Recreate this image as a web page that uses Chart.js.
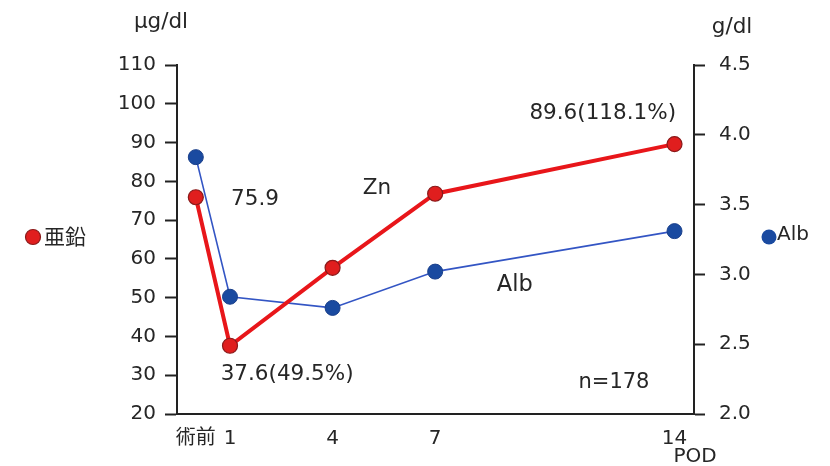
<!DOCTYPE html>
<html>
<head>
<meta charset="utf-8">
<script src="https://cdn.jsdelivr.net/npm/chart.js@4.4.1/dist/chart.umd.min.js"></script>
<style>
  html, body { margin: 0; padding: 0; background: #fff; }
</style>
</head>
<body>
<canvas id="chart" width="830" height="466"></canvas>
<script>
// Data
const days = [0, 1, 4, 7, 14];
const dayLabels = ['術前', '1', '4', '7', '14'];
const zincValues = [75.9, 37.6, 57.7, 76.8, 89.6];   // µg/dl
const albValues = [3.84, 2.84, 2.76, 3.02, 3.31];    // g/dl

const textColor = '#262626';
const axisColor = '#222';
const font = '"DejaVu Sans", Verdana, sans-serif';

function toPoints(values) {
    return days.map((d, i) => ({ x: d, y: values[i] }));
}

// Annotations, units and side legends
const notesPlugin = {
    id: 'notes',
    afterDraw(chart) {
        const { ctx, scales: { x, y } } = chart;
        ctx.save();
        ctx.fillStyle = textColor;
        ctx.font = '21.5px ' + font;
        ctx.textAlign = 'center';
        ctx.textBaseline = 'middle';

        ctx.fillText('75.9', x.getPixelForValue(1.73), y.getPixelForValue(75.4));
        ctx.fillText('Zn', x.getPixelForValue(5.3), y.getPixelForValue(78.3));
        ctx.fillText('89.6(118.1%)', x.getPixelForValue(11.9), y.getPixelForValue(97.6));
        ctx.fillText('37.6(49.5%)', x.getPixelForValue(2.67), y.getPixelForValue(30.3));
        ctx.font = '22.5px ' + font;
        ctx.fillText('Alb', x.getPixelForValue(9.33), y.getPixelForValue(53.3));
        ctx.font = '21px ' + font;
        ctx.fillText('n=178', x.getPixelForValue(12.23), y.getPixelForValue(28));

        // units
        ctx.font = '21.5px ' + font;
        ctx.fillText('µg/dl', 161, 22);
        ctx.fillText('g/dl', 732, 27);
        ctx.font = '20px ' + font;
        ctx.fillText('POD', 695, 457);

        // side legends
        ctx.textAlign = 'left';
        ctx.beginPath();
        ctx.arc(33, 237, 7.5, 0, Math.PI * 2);
        ctx.fillStyle = '#e01e1e';
        ctx.fill();
        ctx.lineWidth = 1.2;
        ctx.strokeStyle = '#8a1a1a';
        ctx.stroke();
        ctx.fillStyle = textColor;
        ctx.font = '21px "Noto Sans CJK JP", ' + font;
        ctx.fillText('亜鉛', 44, 236);

        ctx.beginPath();
        ctx.arc(769, 237, 7.5, 0, Math.PI * 2);
        ctx.fillStyle = '#1a4aa0';
        ctx.fill();
        ctx.fillStyle = textColor;
        ctx.font = '20px ' + font;
        ctx.fillText('Alb', 777, 235);
        ctx.restore();
    }
};

const ctx = document.getElementById('chart').getContext('2d');
const chart = new Chart(ctx, {
    type: 'line',
    data: {
        datasets: [
            {
                label: '亜鉛',
                data: toPoints(zincValues),
                yAxisID: 'y',
                order: 0,
                borderColor: '#e8161a',
                borderWidth: 4,
                backgroundColor: '#e01e1e',
                pointBackgroundColor: '#e01e1e',
                pointBorderColor: '#8a1a1a',
                pointBorderWidth: 1.2,
                pointRadius: 7.5,
                tension: 0
            },
            {
                label: 'Alb',
                data: toPoints(albValues),
                yAxisID: 'y1',
                order: 1,
                borderColor: '#3355c4',
                borderWidth: 1.6,
                backgroundColor: '#1a4aa0',
                pointBackgroundColor: '#1a4aa0',
                pointBorderColor: '#1a3f8a',
                pointBorderWidth: 1,
                pointRadius: 7.5,
                tension: 0
            }
        ]
    },
    options: {
        responsive: false,
        animation: false,
        layout: { padding: { top: 65, left: 0, right: 0, bottom: 0 } },
        plugins: {
            legend: { display: false },
            tooltip: { enabled: false }
        },
        scales: {
            x: {
                type: 'linear',
                min: -0.55,
                max: 14.57,
                afterBuildTicks(scale) {
                    scale.ticks = days.map(v => ({ value: v }));
                },
                afterFit(scale) { scale.height = 52; },
                grid: { display: false },
                border: { display: true, color: axisColor, width: 2 },
                ticks: {
                    color: textColor,
                    font: { family: '"DejaVu Sans", "Noto Sans CJK JP", sans-serif', size: 20 },
                    padding: 5,
                    maxRotation: 0,
                    autoSkip: false,
                    callback: (v) => dayLabels[days.indexOf(v)]
                }
            },
            y: {
                position: 'left',
                min: 20,
                max: 110,
                afterFit(scale) { scale.width = 177; },
                grid: {
                    drawOnChartArea: false,
                    drawTicks: true,
                    tickLength: 12,
                    tickWidth: 2,
                    color: axisColor
                },
                border: { display: true, color: axisColor, width: 2 },
                ticks: {
                    stepSize: 10,
                    color: textColor,
                    font: { family: font, size: 20 },
                    padding: 9
                }
            },
            y1: {
                position: 'right',
                min: 2.0,
                max: 4.5,
                afterFit(scale) { scale.width = 136; },
                grid: {
                    drawOnChartArea: false,
                    drawTicks: true,
                    tickLength: 11,
                    tickWidth: 2,
                    color: axisColor
                },
                border: { display: true, color: axisColor, width: 2 },
                ticks: {
                    stepSize: 0.5,
                    color: textColor,
                    font: { family: font, size: 20 },
                    padding: 14,
                    callback: (v) => v.toFixed(1)
                }
            }
        }
    },
    plugins: [notesPlugin]
});
</script>
</body>
</html>
